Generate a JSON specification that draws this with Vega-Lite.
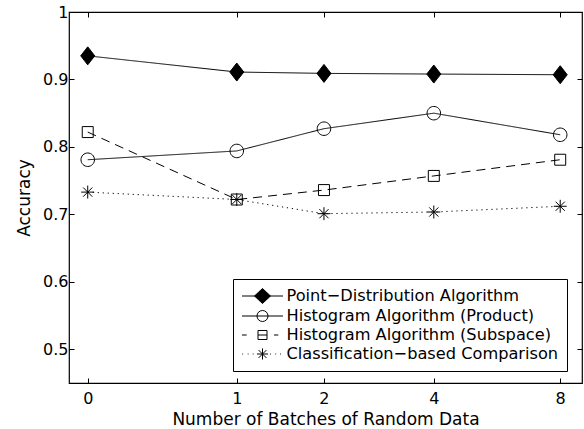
{
  "$schema": "https://vega.github.io/schema/vega-lite/v6.json",
  "width": 513,
  "height": 371,
  "autosize": {"type": "none"},
  "padding": {"left": 69, "top": 12, "right": 2, "bottom": 46},
  "background": "white",
  "data": {"values": [
    {"batches": 0, "accuracy": 0.935, "series": "Point−Distribution Algorithm"},
    {"batches": 1, "accuracy": 0.911, "series": "Point−Distribution Algorithm"},
    {"batches": 2, "accuracy": 0.909, "series": "Point−Distribution Algorithm"},
    {"batches": 4, "accuracy": 0.908, "series": "Point−Distribution Algorithm"},
    {"batches": 8, "accuracy": 0.907, "series": "Point−Distribution Algorithm"},
    {"batches": 0, "accuracy": 0.781, "series": "Histogram Algorithm (Product)"},
    {"batches": 1, "accuracy": 0.794, "series": "Histogram Algorithm (Product)"},
    {"batches": 2, "accuracy": 0.827, "series": "Histogram Algorithm (Product)"},
    {"batches": 4, "accuracy": 0.850, "series": "Histogram Algorithm (Product)"},
    {"batches": 8, "accuracy": 0.818, "series": "Histogram Algorithm (Product)"},
    {"batches": 0, "accuracy": 0.822, "series": "Histogram Algorithm (Subspace)"},
    {"batches": 1, "accuracy": 0.722, "series": "Histogram Algorithm (Subspace)"},
    {"batches": 2, "accuracy": 0.736, "series": "Histogram Algorithm (Subspace)"},
    {"batches": 4, "accuracy": 0.757, "series": "Histogram Algorithm (Subspace)"},
    {"batches": 8, "accuracy": 0.781, "series": "Histogram Algorithm (Subspace)"},
    {"batches": 0, "accuracy": 0.733, "series": "Classification−based Comparison"},
    {"batches": 1, "accuracy": 0.722, "series": "Classification−based Comparison"},
    {"batches": 2, "accuracy": 0.701, "series": "Classification−based Comparison"},
    {"batches": 4, "accuracy": 0.7035, "series": "Classification−based Comparison"},
    {"batches": 8, "accuracy": 0.712, "series": "Classification−based Comparison"}
  ]},
  "layer": [
    {
      "mark": {"type": "line", "color": "black", "strokeWidth": 1},
      "encoding": {
        "x": {"field": "batches", "type": "quantitative",
          "scale": {"type": "symlog", "constant": 1, "domain": [-0.091, 8.96], "nice": false, "zero": false},
          "axis": {"orient": "bottom", "values": [0, 1, 2, 4, 8], "format": "d", "tickSize": -5, "labelPadding": 12, "title": "Number of Batches of Random Data", "titlePadding": 5}},
        "y": {"field": "accuracy", "type": "quantitative",
          "scale": {"domain": [0.45, 1], "nice": false, "zero": false},
          "axis": {"orient": "left", "values": [0.5, 0.6, 0.7, 0.8, 0.9, 1], "format": "~g", "tickSize": -5, "labelPadding": 6, "title": "Accuracy", "titlePadding": 9}},
        "strokeDash": {"field": "series", "type": "nominal",
          "scale": {"domain": ["Point−Distribution Algorithm", "Histogram Algorithm (Product)", "Histogram Algorithm (Subspace)", "Classification−based Comparison"],
                    "range": [[1, 0], [1, 0], [9, 6], [1.2, 3.8]]},
          "legend": null}
      }
    },
    {
      "mark": {"type": "point", "filled": true, "stroke": "black", "strokeWidth": 1, "size": 324, "opacity": 1},
      "encoding": {
        "x": {"field": "batches", "type": "quantitative", "axis": null},
        "y": {"field": "accuracy", "type": "quantitative", "axis": null},
        "shape": {"field": "series", "type": "nominal",
          "scale": {"domain": ["Point−Distribution Algorithm", "Histogram Algorithm (Product)", "Histogram Algorithm (Subspace)", "Classification−based Comparison"],
                    "range": ["M0,-1L0.78,0L0,1L-0.78,0Z",
                              "M0.75,0A0.75,0.75,0,1,1,-0.75,0A0.75,0.75,0,1,1,0.75,0Z",
                              "M-0.61,-0.61H0.61V0.61H-0.61Z",
                              "M-0.72,0H0.72M0,-0.72V0.72M-0.51,-0.51L0.51,0.51M-0.51,0.51L0.51,-0.51"]},
          "legend": null},
        "fill": {"field": "series", "type": "nominal",
          "scale": {"domain": ["Point−Distribution Algorithm", "Histogram Algorithm (Product)", "Histogram Algorithm (Subspace)", "Classification−based Comparison"],
                    "range": ["black", "transparent", "transparent", "transparent"]},
          "legend": null}
      }
    },
    {
      "mark": {"type": "point", "filled": true, "stroke": "black", "strokeWidth": 1, "opacity": 0},
      "encoding": {
        "x": {"field": "batches", "type": "quantitative", "axis": null},
        "y": {"field": "accuracy", "type": "quantitative", "axis": null},
        "shape": {"field": "series", "type": "nominal",
          "scale": {"domain": ["Point−Distribution Algorithm", "Histogram Algorithm (Product)", "Histogram Algorithm (Subspace)", "Classification−based Comparison"],
                    "range": ["M-2.41,0H2.41M0,-0.88L0.94,0L0,0.88L-0.94,0Z",
                              "M-2.41,0H2.41M0.65,0A0.65,0.65,0,1,1,-0.65,0A0.65,0.65,0,1,1,0.65,0Z",
                              "M-2.41,0H-1.86M-0.53,0H0.53M1.35,0H1.86M-0.53,-0.53H0.53V0.53H-0.53Z",
                              "M-2.38,0h0.1M-1.74,0h0.1M-1.15,0h0.1M0.88,0h0.1M1.51,0h0.1M2.06,0h0.1M-0.65,0H0.65M0,-0.65V0.65M-0.46,-0.46L0.46,0.46M-0.46,0.46L0.46,-0.46"]},
          "legend": {"title": null, "orient": "none", "legendX": 164, "legendY": 267, "symbolSize": 289, "symbolStrokeWidth": 1, "symbolStrokeColor": "black", "symbolOpacity": 1, "symbolOffset": 12.5, "labelOffset": 15, "labelFont": "DejaVu Sans", "labelFontSize": 16.2, "labelColor": "black", "labelLimit": 400, "padding": 8, "rowPadding": 1, "strokeColor": "black", "fillColor": "white", "cornerRadius": 0,
            "encode": {"symbols": {"update": {"stroke": {"value": "black"}, "strokeWidth": {"value": 1}, "opacity": {"value": 1}}}}}},
        "fill": {"field": "series", "type": "nominal",
          "scale": {"domain": ["Point−Distribution Algorithm", "Histogram Algorithm (Product)", "Histogram Algorithm (Subspace)", "Classification−based Comparison"],
                    "range": ["black", "transparent", "transparent", "transparent"]},
          "legend": {"title": null, "orient": "none", "legendX": 164, "legendY": 267, "symbolSize": 289, "symbolStrokeWidth": 1, "symbolStrokeColor": "black", "symbolOpacity": 1, "symbolOffset": 12.5, "labelOffset": 15, "labelFont": "DejaVu Sans", "labelFontSize": 16.2, "labelColor": "black", "labelLimit": 400, "padding": 8, "rowPadding": 1, "strokeColor": "black", "fillColor": "white", "cornerRadius": 0,
            "encode": {"symbols": {"update": {"stroke": {"value": "black"}, "strokeWidth": {"value": 1}, "opacity": {"value": 1}}}}}}
      }
    },
    {
      "mark": {"type": "point", "opacity": 0},
      "encoding": {
        "x": {"field": "batches", "type": "quantitative",
          "axis": {"orient": "top", "values": [0, 1, 2, 4, 8], "labels": false, "tickSize": -5, "title": null}},
        "y": {"field": "accuracy", "type": "quantitative",
          "axis": {"orient": "right", "values": [0.5, 0.6, 0.7, 0.8, 0.9, 1], "labels": false, "tickSize": -5, "title": null}}
      }
    }
  ],
  "resolve": {
    "scale": {"shape": "independent", "fill": "independent", "strokeDash": "independent"},
    "axis": {"x": "independent", "y": "independent"},
    "legend": {"shape": "independent", "fill": "independent"}
  },
  "config": {
    "view": {"stroke": "black", "strokeWidth": 1.2},
    "axis": {"labelFont": "DejaVu Sans", "labelFontSize": 16, "labelColor": "black", "titleFont": "DejaVu Sans", "titleFontSize": 17, "titleFontWeight": "normal", "titleColor": "black", "tickColor": "black", "tickWidth": 1, "domain": false, "grid": false},
    "legend": {"strokeWidth": 1}
  }
}
